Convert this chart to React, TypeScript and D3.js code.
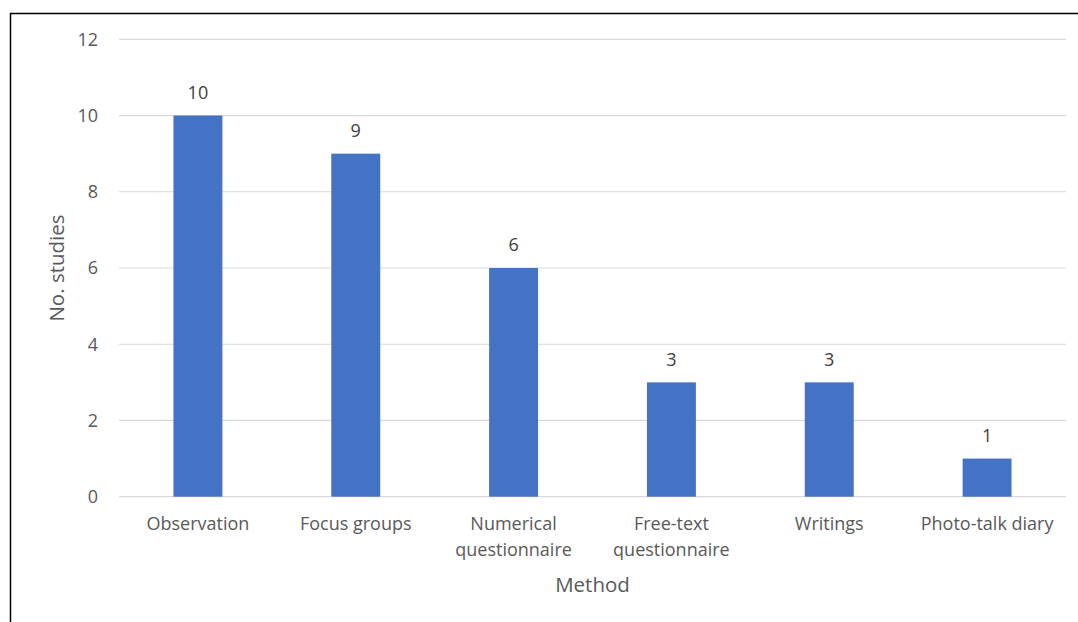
import React from "react";
import * as d3 from "d3";

const categories: string[][] = [
  ["Observation"],
  ["Focus groups"],
  ["Numerical", "questionnaire"],
  ["Free-text", "questionnaire"],
  ["Writings"],
  ["Photo-talk diary"],
];
const studies: number[] = [10, 9, 6, 3, 3, 1];
const yTicks: number[] = [0, 2, 4, 6, 8, 10, 12];

const W = 1078;
const H = 622;
const FONT = "'Open Sans', sans-serif";

export default function App() {
  const left = 119;
  const right = 1066;
  const top = 39.3;
  const bottom = 496.7;

  const x = d3
    .scaleBand<number>()
    .domain(d3.range(categories.length))
    .range([left, right])
    .paddingInner(0.69)
    .paddingOuter(0.345);
  const y = d3.scaleLinear().domain([0, 12]).range([bottom, top]);

  return (
    <svg
      width={W}
      height={H}
      style={{ position: "absolute", left: 0, top: 0 }}
      fontFamily={FONT}
    >
      <rect x={0} y={0} width={W} height={H} fill="#fff" />
      {/* frame */}
      <path d={`M10.5,${H} V13.5 H${W + 2}`} fill="none" stroke="#000" strokeWidth={1.5} />

      {/* gridlines */}
      {yTicks.map((t) => (
        <line
          key={t}
          x1={left}
          x2={right}
          y1={y(t)}
          y2={y(t)}
          stroke="#d9d9d9"
          strokeWidth={1.2}
        />
      ))}

      {/* y tick labels */}
      {yTicks.map((t) => (
        <text
          key={"l" + t}
          x={98}
          y={y(t)}
          dy="0.35em"
          textAnchor="end"
          fontSize={18}
          fill="#595959"
        >
          {t}
        </text>
      ))}

      {/* bars */}
      {studies.map((v, i) => (
        <rect
          key={i}
          x={x(i)!}
          y={y(v)}
          width={x.bandwidth()}
          height={y(0) - y(v)}
          fill="#4472C4"
        />
      ))}

      {/* data labels */}
      {studies.map((v, i) => (
        <text
          key={"d" + i}
          x={x(i)! + x.bandwidth() / 2}
          y={y(v) - 23}
          dy="0.35em"
          textAnchor="middle"
          fontSize={18}
          fill="#404040"
        >
          {v}
        </text>
      ))}

      {/* category labels */}
      {categories.map((lines, i) => (
        <text
          key={"c" + i}
          x={x(i)! + x.bandwidth() / 2}
          y={524}
          textAnchor="middle"
          fontSize={18}
          fill="#595959"
        >
          {lines.map((ln, j) => (
            <tspan key={j} x={x(i)! + x.bandwidth() / 2} y={524 + j * 26} dy="0.35em">
              {ln}
            </tspan>
          ))}
        </text>
      ))}

      {/* axis titles */}
      <text
        x={(left + right) / 2}
        y={585}
        dy="0.35em"
        textAnchor="middle"
        fontSize={20.5}
        fill="#595959"
      >
        Method
      </text>
      <text
        transform={`translate(57,${(top + bottom) / 2}) rotate(-90)`}
        dy="0.35em"
        textAnchor="middle"
        fontSize={20.5}
        fill="#595959"
      >
        No. studies
      </text>
    </svg>
  );
}
